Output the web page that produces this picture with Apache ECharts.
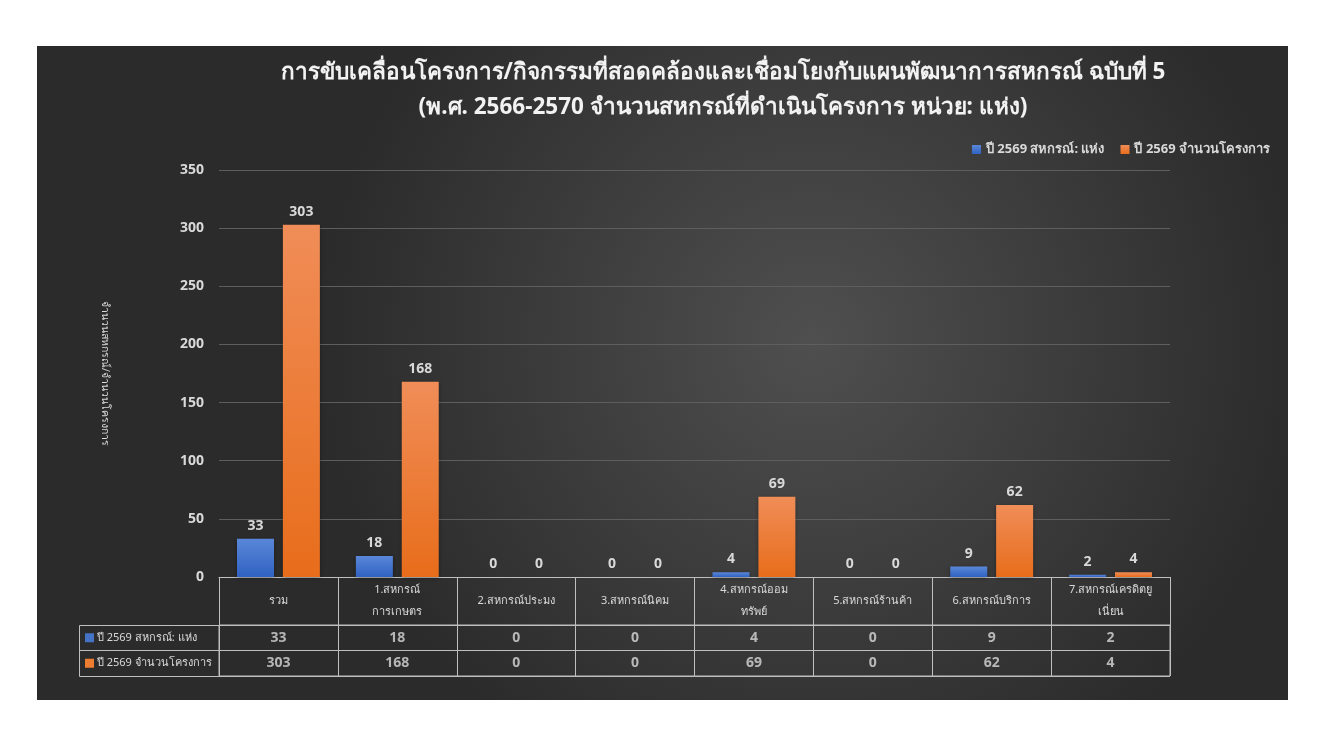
<!DOCTYPE html>
<html>
<head>
<meta charset="utf-8">
<script src="https://cdn.jsdelivr.net/npm/echarts@6/dist/echarts.min.js"></script>
<style>
  html, body { margin: 0; padding: 0; background: #fff; }
  #chart { width: 1329px; height: 749px; }
</style>
</head>
<body>
<div id="chart"></div>
<script>
  // ข้อมูลจากกราฟ
  var categories = ['รวม', '1.สหกรณ์\nการเกษตร', '2.สหกรณ์ประมง', '3.สหกรณ์นิคม', '4.สหกรณ์ออม\nทรัพย์', '5.สหกรณ์ร้านค้า', '6.สหกรณ์บริการ', '7.สหกรณ์เครดิตยู\nเนี่ยน'];
  var seriesNames = ['ปี 2569 สหกรณ์: แห่ง', 'ปี 2569 จำนวนโครงการ'];
  var coops = [33, 18, 0, 0, 4, 0, 9, 2];
  var projects = [303, 168, 0, 0, 69, 0, 62, 4];
  var yTicks = { min: 0, max: 350, interval: 50 };

  var font = 'Tahoma, "Noto Sans", "DejaVu Sans", sans-serif';
  var textColor = '#d9d9d9';
  var lineColor = '#bfbfbf';

  var chart = echarts.init(document.getElementById('chart'));

  function grad(top, bottom) {
    return new echarts.graphic.LinearGradient(0, 0, 0, 1, [
      { offset: 0, color: top },
      { offset: 1, color: bottom }
    ]);
  }

  var barLabel = {
    show: true,
    position: 'top',
    distance: 6,
    color: textColor,
    fontFamily: font,
    fontWeight: 'bold',
    fontSize: 14
  };

  var cellLabel = {
    show: true,
    position: 'inside',
    color: textColor,
    fontFamily: font,
    fontWeight: 'bold',
    fontSize: 14
  };

  chart.setOption({
    backgroundColor: '#fff',
    textStyle: { fontFamily: font },
    graphic: [
      {
        type: 'rect',
        z: -10,
        silent: true,
        shape: { x: 37, y: 46, width: 1251, height: 654 },
        style: {
          fill: {
            type: 'radial', x: 0.62, y: 0.45, r: 0.75,
            colorStops: [
              { offset: 0, color: '#4f4f4f' },
              { offset: 1, color: '#2b2b2b' }
            ]
          }
        }
      },
      // กรอบคอลัมน์ชื่อชุดข้อมูลของตาราง
      {
        type: 'rect',
        silent: true,
        shape: { x: 79.5, y: 625.5, width: 140, height: 51 },
        style: { fill: 'none', stroke: lineColor, lineWidth: 1 }
      },
      {
        type: 'line',
        silent: true,
        shape: { x1: 79.5, y1: 650.5, x2: 219.5, y2: 650.5 },
        style: { stroke: lineColor, lineWidth: 1 }
      }
    ],
    title: {
      text: 'การขับเคลื่อนโครงการ/กิจกรรมที่สอดคล้องและเชื่อมโยงกับแผนพัฒนาการสหกรณ์ ฉบับที่ 5\n(พ.ศ. 2566-2570 จำนวนสหกรณ์ที่ดำเนินโครงการ หน่วย: แห่ง)',
      left: 718,
      top: 50,
      textAlign: 'center',
      textStyle: {
        color: '#f2f2f2',
        fontFamily: font,
        fontWeight: 'bold',
        fontSize: 22.5,
        lineHeight: 35
      }
    },
    legend: {
      data: seriesNames,
      right: 54,
      top: 138,
      itemWidth: 9,
      itemHeight: 9,
      itemGap: 16,
      icon: 'rect',
      textStyle: { color: textColor, fontSize: 13, fontWeight: 'bold', fontFamily: font }
    },
    grid: [
      { left: 219, right: 159, top: 170, bottom: 172 },
      { left: 219, right: 159, top: 625, height: 51, show: true, borderColor: lineColor, borderWidth: 1 }
    ],
    xAxis: [
      {
        type: 'category',
        gridIndex: 0,
        data: categories,
        axisLine: { lineStyle: { color: lineColor, width: 1 } },
        axisTick: { show: true, length: 48, lineStyle: { color: lineColor } },
        axisLabel: {
          color: textColor,
          fontSize: 11,
          lineHeight: 22,
          margin: 24,
          verticalAlign: 'middle',
          interval: 0,
          fontFamily: font
        }
      },
      {
        type: 'category',
        gridIndex: 1,
        data: categories,
        axisLine: { show: false },
        axisTick: { show: false },
        axisLabel: { show: false },
        splitLine: { show: true, lineStyle: { color: lineColor, width: 1 } }
      }
    ],
    yAxis: [
      {
        type: 'value',
        gridIndex: 0,
        min: yTicks.min,
        max: yTicks.max,
        interval: yTicks.interval,
        name: 'จำนวนสหกรณ์/จำนวนโครงการ',
        nameLocation: 'middle',
        nameRotate: -90,
        nameGap: 109,
        nameTextStyle: { color: textColor, fontSize: 10.5, fontFamily: font },
        axisLine: { show: false },
        axisTick: { show: false },
        axisLabel: { color: textColor, fontSize: 14, fontWeight: 'bold', margin: 15, fontFamily: font },
        splitLine: { lineStyle: { color: '#5e5e5e', width: 1 } }
      },
      {
        type: 'category',
        gridIndex: 1,
        inverse: true,
        data: seriesNames,
        axisLine: { show: false },
        axisTick: { show: false },
        splitLine: { show: true, lineStyle: { color: lineColor, width: 1 } },
        axisLabel: {
          align: 'left',
          margin: 134,
          color: textColor,
          fontSize: 11,
          fontFamily: font,
          formatter: function (value, index) {
            return '{s' + index + '|} ' + value;
          },
          rich: {
            s0: { width: 9, height: 9, backgroundColor: '#4472c4' },
            s1: { width: 9, height: 9, backgroundColor: '#ed7d31' }
          }
        }
      }
    ],
    series: [
      {
        name: seriesNames[0],
        type: 'bar',
        xAxisIndex: 0,
        yAxisIndex: 0,
        data: coops,
        barWidth: 37,
        barGap: '24%',
        itemStyle: { color: grad('#5a87d8', '#2f62c2'), shadowColor: 'rgba(0,0,0,0.35)', shadowBlur: 4, shadowOffsetY: 1 },
        label: barLabel
      },
      {
        name: seriesNames[1],
        type: 'bar',
        xAxisIndex: 0,
        yAxisIndex: 0,
        data: projects,
        barWidth: 37,
        itemStyle: { color: grad('#f08d58', '#e86d1b'), shadowColor: 'rgba(0,0,0,0.35)', shadowBlur: 4, shadowOffsetY: 1 },
        label: barLabel
      },
      {
        name: 'table-coops',
        type: 'scatter',
        xAxisIndex: 1,
        yAxisIndex: 1,
        symbolSize: 1,
        itemStyle: { color: 'rgba(0,0,0,0)' },
        data: coops.map(function (v, i) { return [i, 0, v]; }),
        label: Object.assign({ formatter: function (p) { return p.value[2]; } }, cellLabel)
      },
      {
        name: 'table-projects',
        type: 'scatter',
        xAxisIndex: 1,
        yAxisIndex: 1,
        symbolSize: 1,
        itemStyle: { color: 'rgba(0,0,0,0)' },
        data: projects.map(function (v, i) { return [i, 1, v]; }),
        label: Object.assign({ formatter: function (p) { return p.value[2]; } }, cellLabel)
      }
    ]
  });
</script>
</body>
</html>
